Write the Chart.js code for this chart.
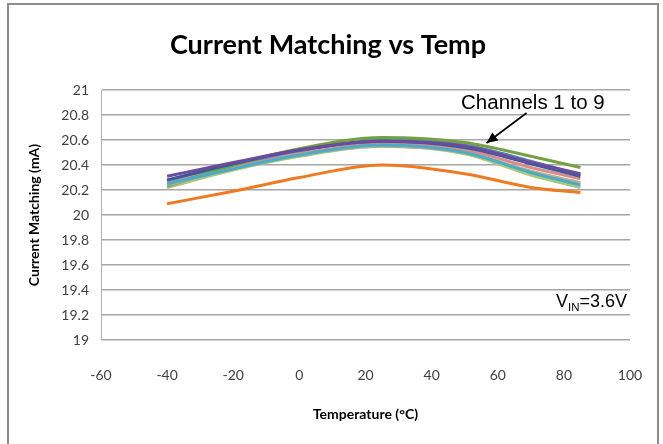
<!DOCTYPE html>
<html>
<head>
<meta charset="utf-8">
<script src="https://cdn.jsdelivr.net/npm/chart.js@4"></script>
<style>
  html, body { margin: 0; padding: 0; background: #fff; }
  #wrap { position: relative; width: 663px; height: 444px; }
  #frame { position: absolute; left: 7px; top: 3px; width: 652px; height: 450px; border: 2px solid #8c8c8c; box-sizing: border-box; }
  canvas { position: absolute; left: 0; top: 0; }
</style>
</head>
<body>
<div id="wrap">
  <div id="frame"></div>
  <canvas id="c" width="663" height="444"></canvas>
</div>
<script>
const temps = [-40, -20, 0, 25, 50, 70, 85];
const seriesNames = ['Ch1', 'Ch2', 'Ch3', 'Ch4', 'Ch5', 'Ch6', 'Ch7', 'Ch8', 'Ch9'];
const ch1 = [20.27, 20.40, 20.51, 20.60, 20.56, 20.43, 20.32];
const ch2 = [20.26, 20.38, 20.49, 20.57, 20.52, 20.38, 20.29];
const ch3 = [20.23, 20.40, 20.53, 20.62, 20.58, 20.47, 20.38];
const ch4 = [20.31, 20.42, 20.52, 20.59, 20.55, 20.42, 20.33];
const ch5 = [20.25, 20.37, 20.48, 20.56, 20.50, 20.34, 20.24];
const ch6 = [20.09, 20.19, 20.30, 20.40, 20.33, 20.22, 20.18];
const ch7 = [20.28, 20.41, 20.52, 20.59, 20.54, 20.41, 20.31];
const ch8 = [20.24, 20.37, 20.48, 20.55, 20.50, 20.35, 20.26];
const ch9 = [20.22, 20.36, 20.47, 20.55, 20.49, 20.32, 20.22];
const seriesValues = [ch1, ch2, ch3, ch4, ch5, ch6, ch7, ch8, ch9];
const seriesColors = ['#4F81BD', '#D98C8C', '#77A040', '#6A4C9C', '#4BACC6', '#EE7B22', '#3A5A9A', '#B8AD90', '#A8C97A'];
const drawOrder = [8, 7, 4, 1, 0, 6, 3, 2, 5];
const xTicks = [-60, -40, -20, 0, 20, 40, 60, 80, 100];
const yTicks = [19, 19.2, 19.4, 19.6, 19.8, 20, 20.2, 20.4, 20.6, 20.8, 21];

const datasets = seriesNames.map((n, i) => ({
  label: n,
  data: temps.map((t, j) => ({ x: t, y: seriesValues[i][j] })),
  borderColor: seriesColors[i],
  borderWidth: 3,
  pointRadius: 0,
  tension: 0.4,
  cubicInterpolationMode: 'monotone',
  fill: false,
  order: drawOrder[i]
}));

const annot = {
  id: 'annot',
  afterDatasetsDraw(chart) {
    const ctx = chart.ctx;
    const xs = chart.scales.x, ys = chart.scales.y;
    ctx.save();
    ctx.fillStyle = '#000';
    ctx.font = '20.5px "Liberation Sans", Arial, sans-serif';
    ctx.textBaseline = 'middle';
    ctx.textAlign = 'left';
    ctx.fillText('Channels 1 to 9', xs.getPixelForValue(48.9), ys.getPixelForValue(20.896));
    const x1 = xs.getPixelForValue(68.7), y1 = ys.getPixelForValue(20.816);
    const x2 = xs.getPixelForValue(56.6), y2 = ys.getPixelForValue(20.576);
    ctx.strokeStyle = '#000';
    ctx.lineWidth = 1.6;
    ctx.beginPath(); ctx.moveTo(x1, y1); ctx.lineTo(x2, y2); ctx.stroke();
    const ang = Math.atan2(y2 - y1, x2 - x1);
    const L = 11, W = 5;
    ctx.beginPath();
    ctx.moveTo(x2, y2);
    ctx.lineTo(x2 - L * Math.cos(ang) + W * Math.sin(ang), y2 - L * Math.sin(ang) - W * Math.cos(ang));
    ctx.lineTo(x2 - L * Math.cos(ang) - W * Math.sin(ang), y2 - L * Math.sin(ang) + W * Math.cos(ang));
    ctx.closePath(); ctx.fill();
    let vx = xs.getPixelForValue(77.6), vy = ys.getPixelForValue(19.3);
    ctx.font = '18px "Liberation Sans", Arial, sans-serif';
    ctx.fillText('V', vx, vy);
    vx += ctx.measureText('V').width;
    ctx.font = '11.5px "Liberation Sans", Arial, sans-serif';
    ctx.fillText('IN', vx, vy + 5);
    vx += ctx.measureText('IN').width;
    ctx.font = '18px "Liberation Sans", Arial, sans-serif';
    ctx.fillText('=3.6V', vx, vy);
    ctx.restore();
  }
};

new Chart(document.getElementById('c'), {
  type: 'line',
  data: { datasets },
  plugins: [annot],
  options: {
    responsive: false,
    animation: false,
    devicePixelRatio: 1,
    layout: { padding: { left: 26, right: 33, top: 0, bottom: 21 } },
    plugins: {
      legend: { display: false },
      tooltip: { enabled: false },
      title: {
        display: true,
        text: 'Current Matching vs Temp',
        color: '#000',
        font: { family: 'Lato', size: 27, weight: 'bold' },
        padding: { top: 29, bottom: 28.6 }
      }
    },
    scales: {
      x: {
        type: 'linear',
        min: -60, max: 100,
        afterBuildTicks: s => { s.ticks = xTicks.map(v => ({ value: v })); },
        afterFit: s => { s.height = 83; s.paddingLeft = 0; s.paddingRight = 0; },
        grid: { display: false, drawTicks: false },
        border: { display: false },
        ticks: { color: '#404040', font: { family: 'Lato', size: 14 }, padding: 27 },
        title: { display: true, text: 'Temperature (°C)', color: '#000', font: { family: 'Lato', size: 14, weight: 'bold' }, padding: { top: 12, bottom: 0 } }
      },
      y: {
        min: 19, max: 21,
        afterBuildTicks: s => { s.ticks = yTicks.map(v => ({ value: v })); },
        afterFit: s => { s.width = 75; },
        grid: { color: '#a6a6a6', lineWidth: 1.5, drawTicks: false },
        border: { display: true, color: '#b0b0b0', width: 1 },
        ticks: { color: '#404040', font: { family: 'Lato', size: 14 }, padding: 12, callback: v => String(Math.round(v * 10) / 10) },
        title: { display: true, text: 'Current Matching (mA)', color: '#000', font: { family: 'Lato', size: 14, weight: 'bold' }, padding: { top: 0, bottom: 4 } }
      }
    }
  }
});
</script>
</body>
</html>
